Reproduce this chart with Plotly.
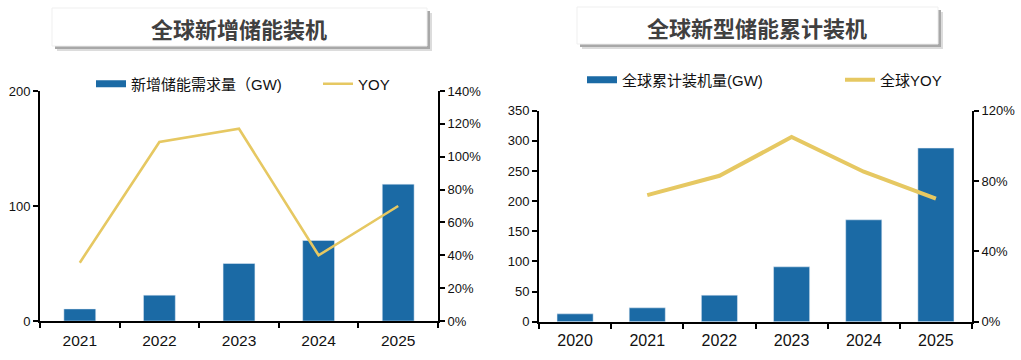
import plotly.graph_objects as go

# ---------------- data ----------------
left_title = "全球新增储能装机"
left_years = ["2021", "2022", "2023", "2024", "2025"]
left_bar_name = "新增储能需求量（GW)"
left_bar_values = [10.5, 22.5, 50, 70, 119]
left_line_name = "YOY"
left_yoy = [0.355, 1.09, 1.17, 0.40, 0.70]

right_title = "全球新型储能累计装机"
right_years = ["2020", "2021", "2022", "2023", "2024", "2025"]
right_bar_name = "全球累计装机量(GW)"
right_bar_values = [13, 23, 44, 91, 169, 288]
right_line_name = "全球YOY"
right_yoy = [None, 0.72, 0.83, 1.05, 0.853, 0.70]

# ---------------- style ----------------
W, H = 1021, 360
BAR = "#1B6AA5"
LINE = "#E6C862"
FONT = "Liberation Sans, Arial, Noto Sans CJK SC, sans-serif"
CJK = "Noto Sans CJK SC, Liberation Sans, sans-serif"


def px(x):
    return x / W


def py(y):
    return 1 - y / H


fig = go.Figure()

# left chart
fig.add_trace(go.Bar(x=left_years, y=left_bar_values, name=left_bar_name,
                     marker_color=BAR, width=0.4, xaxis="x", yaxis="y",
                     showlegend=False))
fig.add_trace(go.Scatter(x=[None], y=[None], mode="lines", name=left_bar_name,
                         line=dict(color=BAR, width=7), xaxis="x", yaxis="y",
                         legend="legend"))
fig.add_trace(go.Scatter(x=left_years, y=left_yoy, mode="lines", name=left_line_name,
                         line=dict(color=LINE, width=2.6), xaxis="x", yaxis="y2",
                         legend="legend2"))

# right chart
fig.add_trace(go.Bar(x=right_years, y=right_bar_values, name=right_bar_name,
                     marker_color=BAR, width=0.5, xaxis="x2", yaxis="y3",
                     showlegend=False))
fig.add_trace(go.Scatter(x=[None], y=[None], mode="lines", name=right_bar_name,
                         line=dict(color=BAR, width=7), xaxis="x2", yaxis="y3",
                         legend="legend3"))
fig.add_trace(go.Scatter(x=right_years, y=right_yoy, mode="lines", name=right_line_name,
                         line=dict(color=LINE, width=4), xaxis="x2", yaxis="y4",
                         legend="legend4"))

axis_common = dict(showgrid=False, zeroline=False, showline=True, linecolor="black",
                   linewidth=2, ticks="outside", tickcolor="black", tickwidth=2,
                   ticklen=5, fixedrange=True, automargin=False)

legend_common = dict(orientation="h", yanchor="middle", xanchor="left",
                     bgcolor="rgba(0,0,0,0)", borderwidth=0,
                     font=dict(family=FONT, size=15, color="#111111"))

fig.update_layout(
    width=W, height=H,
    margin=dict(l=0, r=0, t=0, b=0, autoexpand=False),
    paper_bgcolor="white", plot_bgcolor="white",
    bargap=0.6,
    font=dict(family=FONT, color="#111111"),
    xaxis=dict(domain=[px(40), px(438)], anchor="y", type="category",
               range=[-0.5, 4.5], tickson="boundaries", ticklabelstandoff=4,
               tickfont=dict(size=15.5), **axis_common),
    yaxis=dict(domain=[py(321), py(91)], anchor="x", range=[0, 200], dtick=100,
               tickfont=dict(size=13), **axis_common),
    yaxis2=dict(overlaying="y", side="right", anchor="x", range=[0, 1.4], dtick=0.2,
                tickformat=".0%", tickfont=dict(size=13), **axis_common),
    xaxis2=dict(domain=[px(539), px(972)], anchor="y3", type="category",
                range=[-0.5, 5.5], tickson="boundaries", ticklabelstandoff=3,
                tickfont=dict(size=16), **axis_common),
    yaxis3=dict(domain=[py(321.7), py(110.7)], anchor="x2", range=[0, 350], dtick=50,
                tickfont=dict(size=13), **axis_common),
    yaxis4=dict(overlaying="y3", side="right", anchor="x2", range=[0, 1.2], dtick=0.4,
                tickformat=".0%", tickfont=dict(size=13), **axis_common),
    legend=dict(x=px(91), y=py(84), **legend_common),
    legend2=dict(x=px(318), y=py(84), **legend_common),
    legend3=dict(x=px(582), y=py(80), **legend_common),
    legend4=dict(x=px(840), y=py(80), **legend_common),
)


def title_box(x0, y0, x1, y1, text, cx, cy):
    # soft shadow
    fig.add_shape(type="rect", xref="paper", yref="paper",
                  x0=px(x0 + 5), x1=px(x1 + 5), y0=py(y1 + 5), y1=py(y0 + 5),
                  fillcolor="#dcdcdc", line_width=0, layer="below")
    fig.add_shape(type="rect", xref="paper", yref="paper",
                  x0=px(x0 + 3), x1=px(x1 + 3), y0=py(y1 + 3), y1=py(y0 + 3),
                  fillcolor="#a8a8a8", line_width=0, layer="below")
    fig.add_shape(type="rect", xref="paper", yref="paper",
                  x0=px(x0), x1=px(x1), y0=py(y1), y1=py(y0),
                  fillcolor="white", line=dict(color="#efefef", width=1), layer="below")
    fig.add_annotation(xref="paper", yref="paper", x=px(cx), y=py(cy),
                       xanchor="center", yanchor="middle", showarrow=False,
                       text="<b>" + text + "</b>",
                       font=dict(family=CJK, size=22, color="#404040"))


title_box(52, 8, 427, 46, left_title, 239, 28)
title_box(577, 7, 938, 44, right_title, 757, 27)

fig.write_html(
    "out.html",
    config={"displayModeBar": False},
    post_script="document.body.style.margin='0';document.body.style.padding='0';"
                "document.documentElement.style.overflow='hidden';",
)
